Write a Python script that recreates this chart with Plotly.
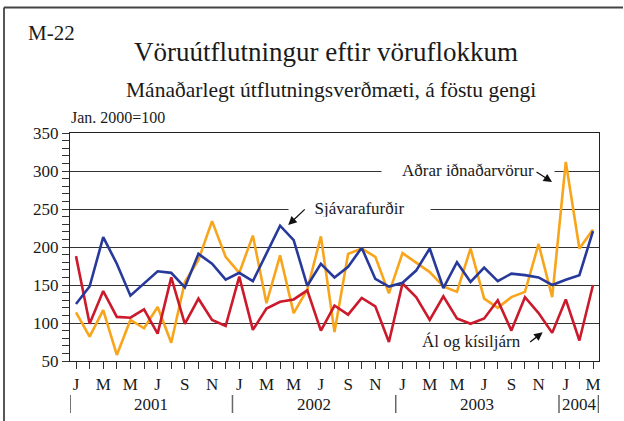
import plotly.graph_objects as go

# ---- data ----
month_letters = ["J", "F", "M", "A", "M", "J", "J", "A", "S", "O", "N", "D"]
years = [2001, 2002, 2003, 2004]
n_months = 39  # Jan 2001 - Mar 2004

sjavarafurdir = [125, 148, 213, 178, 136, 152, 168, 166, 147, 191, 178, 157,
                 166, 155, 191, 228, 209, 149, 178, 160, 174, 199, 158, 148,
                 153, 169, 198, 146, 180, 154, 173, 155, 165, 163, 160, 150,
                 157, 163, 221]
adrar = [114, 82, 117, 58, 104, 93, 121, 74, 154, 183, 234, 187,
         166, 215, 126, 189, 113, 144, 214, 88, 191, 198, 187, 139,
         192, 179, 167, 148, 141, 198, 132, 120, 134, 141, 204, 134,
         312, 198, 223]
al = [188, 99, 142, 108, 107, 118, 86, 160, 99, 132, 104, 96,
      161, 91, 119, 128, 131, 143, 90, 123, 111, 133, 122, 75,
      152, 134, 104, 135, 106, 99, 106, 130, 90, 134, 113, 87,
      131, 77, 150]

x = list(range(n_months))
ticktext = [month_letters[i % 12] if i % 2 == 0 else "" for i in x]

BLUE = "#27399A"
ORANGE = "#F8A51C"
RED = "#CB1A2C"
FONT = "Liberation Serif"
TXT = "#1a1a1a"

# plot area in pixels
L, R, T, B = 70, 599, 133, 361
W, H = 624, 421
def fx(xp):
    return (xp - L) / (R - L)
def fy(yp):
    return (B - yp) / (B - T)

fig = go.Figure()
for vals, col in [(adrar, ORANGE), (al, RED), (sjavarafurdir, BLUE)]:
    fig.add_trace(go.Scatter(x=x, y=vals, mode="lines",
                             line=dict(color=col, width=2.6), hoverinfo="skip"))

ann = []
ann.append(dict(text="M-22", xref="paper", yref="paper", x=fx(26), y=fy(33),
                xanchor="left", yanchor="middle", showarrow=False,
                font=dict(family=FONT, size=21, color=TXT)))
ann.append(dict(text="Vöruútflutningur eftir vöruflokkum", xref="paper", yref="paper",
                x=fx(326), y=fy(52), xanchor="center", yanchor="middle", showarrow=False,
                font=dict(family=FONT, size=27, color=TXT)))
ann.append(dict(text="Mánaðarlegt útflutningsverðmæti, á föstu gengi", xref="paper", yref="paper",
                x=fx(331), y=fy(90), xanchor="center", yanchor="middle", showarrow=False,
                font=dict(family=FONT, size=21.5, color=TXT)))
ann.append(dict(text="Jan. 2000=100", xref="paper", yref="paper",
                x=fx(69), y=fy(118), xanchor="left", yanchor="middle", showarrow=False,
                font=dict(family=FONT, size=16, color=TXT)))
# year labels
year_centers = [5.5, 17.5, 29.5, 37]
for yr, xc in zip(years, year_centers):
    ann.append(dict(text=str(yr), xref="x", yref="paper", x=xc, y=fy(404),
                    xanchor="center", yanchor="middle", showarrow=False,
                    font=dict(family=FONT, size=17, color=TXT)))
# series labels (white boxes break the gridlines)
ann.append(dict(text="Sjávarafurðir", xref="x", yref="y", x=20.84, y=251,
                xanchor="center", yanchor="middle", showarrow=False, bgcolor="white",
                width=139, height=18, font=dict(family=FONT, size=17, color=TXT)))
ann.append(dict(text="Aðrar iðnaðarvörur", xref="x", yref="y", x=28.81, y=301,
                xanchor="center", yanchor="middle", showarrow=False, bgcolor="white",
                width=170, height=18, font=dict(family=FONT, size=17, color=TXT)))
ann.append(dict(text="Ál og kísiljárn", xref="x", yref="y", x=29.1, y=75.5,
                xanchor="center", yanchor="middle", showarrow=False,
                font=dict(family=FONT, size=17, color=TXT)))
# arrows
for hx, hy, axp, ayp in [(15.6, 229, 18, -17), (34.99, 285.5, -17, -11), (34.3, 87.8, -14, 11)]:
    ann.append(dict(text="", xref="x", yref="y", x=hx, y=hy, ax=axp, ay=ayp,
                    showarrow=True, arrowhead=2, arrowsize=1.3, arrowwidth=1.3,
                    arrowcolor="#111"))

shapes = []
for xs in [-0.43, 11.5, 23.5, 35.5, 38.4]:
    shapes.append(dict(type="line", xref="x", yref="paper", x0=xs, x1=xs,
                       y0=fy(395), y1=fy(413), line=dict(color="#666", width=1.5)))
# outer frame (top and left edges)
shapes.append(dict(type="line", xref="paper", yref="paper", x0=fx(4), x1=fx(623),
                   y0=fy(7.5), y1=fy(7.5), line=dict(color="#444", width=2)))
shapes.append(dict(type="line", xref="paper", yref="paper", x0=fx(4), x1=fx(4),
                   y0=fy(7.5), y1=fy(421), line=dict(color="#444", width=1.8)))

fig.update_layout(
    width=W, height=H, autosize=False,
    margin=dict(l=L, r=W - R, t=T, b=H - B, pad=0),
    paper_bgcolor="white", plot_bgcolor="white",
    showlegend=False,
    annotations=ann, shapes=shapes,
    font=dict(family=FONT, color=TXT),
)
fig.update_xaxes(range=[-0.441, 38.441], tickvals=x, ticktext=ticktext,
                 ticks="outside", ticklen=7, tickwidth=1, tickcolor="#333",
                 showgrid=False, zeroline=False, showline=True, mirror=True,
                 linecolor="#222", linewidth=1.3,
                 tickfont=dict(family=FONT, size=17, color=TXT))
fig.update_yaxes(range=[50, 350], dtick=50, tick0=50,
                 ticks="outside", ticklen=7, tickwidth=1, tickcolor="#333",
                 minor=dict(dtick=10, ticks="outside", ticklen=7, tickcolor="#333", showgrid=False),
                 showgrid=True, gridcolor="#333", gridwidth=1,
                 zeroline=False, showline=True, mirror=True,
                 linecolor="#222", linewidth=1.3,
                 tickfont=dict(family=FONT, size=17, color=TXT))

fig.write_html("out.html", config={"displayModeBar": False},
               post_script="document.body.style.margin='0';document.body.style.padding='0';document.body.style.overflow='hidden';")
